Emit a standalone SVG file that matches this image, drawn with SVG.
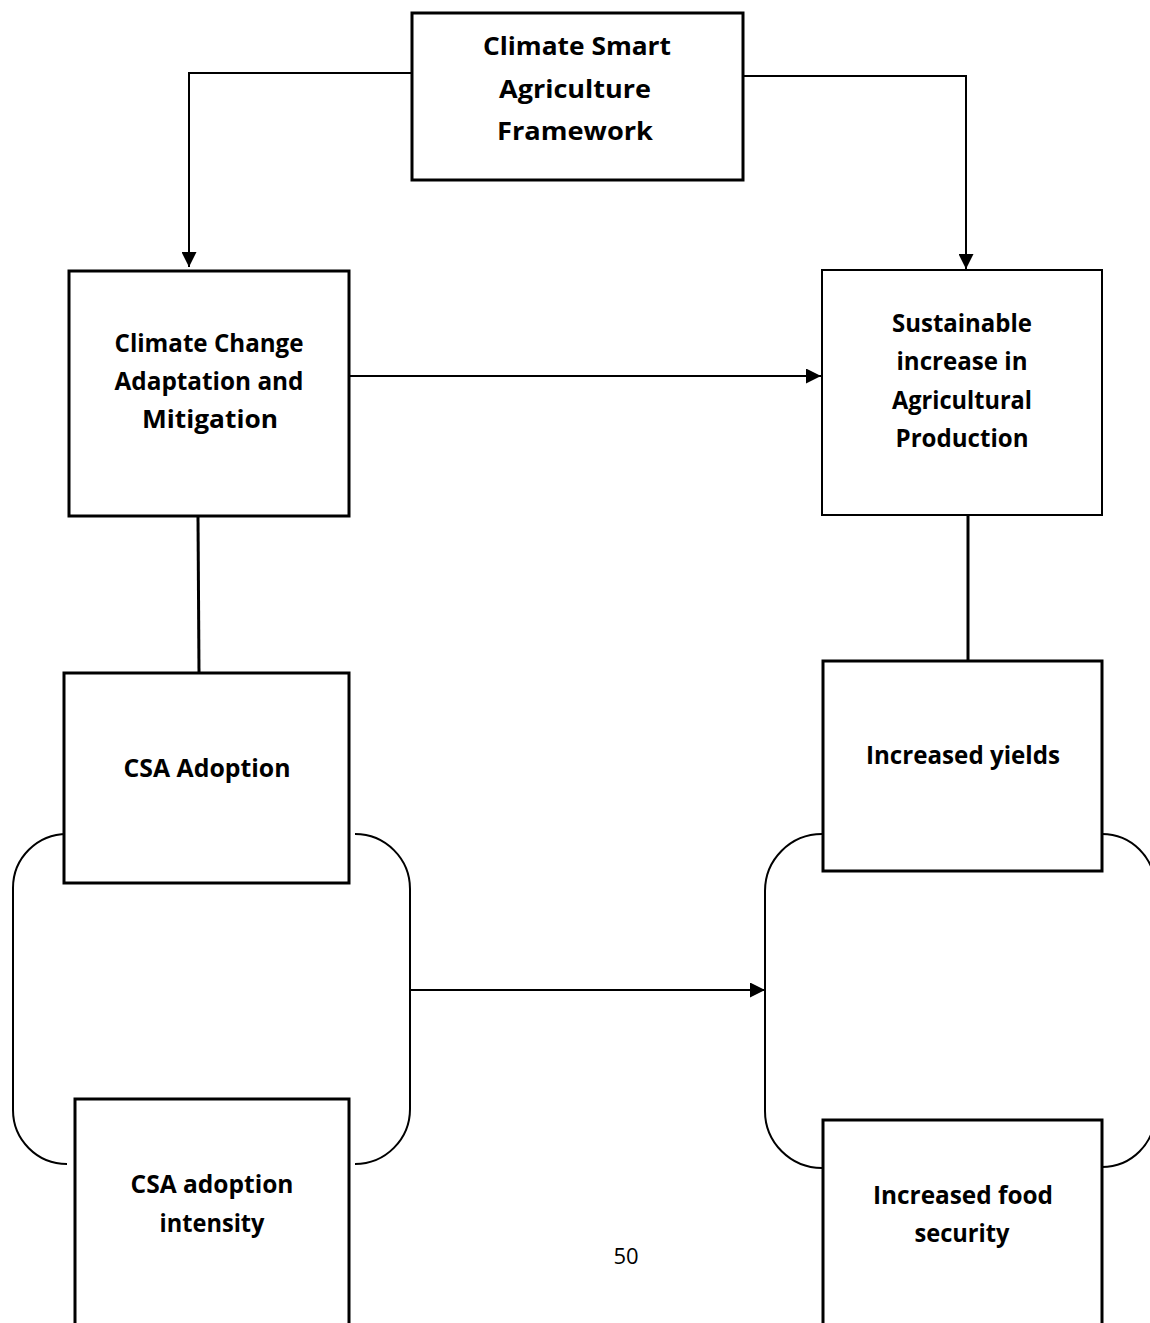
<svg xmlns="http://www.w3.org/2000/svg" width="1150" height="1323" viewBox="0 0 1150 1323">
<style>
.box{fill:#fff;stroke:#000;stroke-width:3}
.thin{stroke-width:2}
.lbl{font-family:"Open Sans","Liberation Sans",sans-serif;font-weight:700;font-size:25px;fill:#000;text-anchor:middle}
.line{fill:none;stroke:#000;stroke-width:2}
.br{fill:none;stroke:#000;stroke-width:2}
.pg{font-family:"Open Sans","Liberation Sans",sans-serif;font-size:22px;fill:#000;text-anchor:middle}
</style>
<defs>
<marker id="arr" markerUnits="userSpaceOnUse" markerWidth="15" markerHeight="15" refX="15" refY="7.5" orient="auto">
<path d="M0,0 L15,7.5 L0,15 z" fill="#000"/>
</marker>
</defs>
<rect width="1150" height="1323" fill="#fff"/>
<g id="brackets">
<path class="br" d="M67,834 A54,54 0 0 0 13,888 L13,1110 A54,54 0 0 0 67,1164"/>
<path class="br" d="M355,834 A55,55 0 0 1 410,889 L410,1109 A55,55 0 0 1 355,1164"/>
<path class="br" d="M822,834 A57,57 0 0 0 765,891 L765,1111 A57,57 0 0 0 822,1168"/>
<path class="br" d="M1102,834 A53,53 0 0 1 1155,887 L1155,1114 A53,53 0 0 1 1102,1167"/>
</g>
<g id="connectors">
<path class="line" d="M412,73 L189,73 L189,267" marker-end="url(#arr)"/>
<path class="line" d="M743,76 L966,76 L966,269" marker-end="url(#arr)"/>
<path class="line" d="M350,376 L821,376" marker-end="url(#arr)"/>
<path class="line" d="M410,990 L765,990" marker-end="url(#arr)"/>
<path class="line" d="M198,517 L199,673" style="stroke-width:3"/>
<path class="line" d="M968,515 L968,661" style="stroke-width:3"/>
</g>
<g id="n-csa-framework">
<rect class="box" x="412" y="13" width="331" height="167"/>
<text class="lbl" x="577" y="55" textLength="188" lengthAdjust="spacingAndGlyphs">Climate Smart</text>
<text class="lbl" x="575" y="98" textLength="152" lengthAdjust="spacingAndGlyphs">Agriculture</text>
<text class="lbl" x="575" y="140" textLength="156" lengthAdjust="spacingAndGlyphs">Framework</text>
</g>
<g id="n-adaptation">
<rect class="box" x="69" y="271" width="280" height="245"/>
<text class="lbl" x="209" y="352" textLength="189" lengthAdjust="spacingAndGlyphs">Climate Change</text>
<text class="lbl" x="209" y="390" textLength="189" lengthAdjust="spacingAndGlyphs">Adaptation and</text>
<text class="lbl" x="210" y="428" textLength="136" lengthAdjust="spacingAndGlyphs">Mitigation</text>
</g>
<g id="n-sustainable">
<rect class="box thin" x="822" y="270" width="280" height="245"/>
<text class="lbl" x="962" y="332" textLength="140" lengthAdjust="spacingAndGlyphs">Sustainable</text>
<text class="lbl" x="962" y="370" textLength="131" lengthAdjust="spacingAndGlyphs">increase in</text>
<text class="lbl" x="962" y="409" textLength="140" lengthAdjust="spacingAndGlyphs">Agricultural</text>
<text class="lbl" x="962" y="447" textLength="133" lengthAdjust="spacingAndGlyphs">Production</text>
</g>
<g id="n-csa-adoption">
<rect class="box" x="64" y="673" width="285" height="210"/>
<text class="lbl" x="207" y="777" textLength="167" lengthAdjust="spacingAndGlyphs">CSA Adoption</text>
</g>
<g id="n-yields">
<rect class="box" x="823" y="661" width="279" height="210"/>
<text class="lbl" x="963" y="764" textLength="194" lengthAdjust="spacingAndGlyphs">Increased yields</text>
</g>
<g id="n-intensity">
<rect class="box" x="75" y="1099" width="274" height="240"/>
<text class="lbl" x="212" y="1193" textLength="163" lengthAdjust="spacingAndGlyphs">CSA adoption</text>
<text class="lbl" x="212" y="1232" textLength="105" lengthAdjust="spacingAndGlyphs">intensity</text>
</g>
<g id="n-food-security">
<rect class="box" x="823" y="1120" width="279" height="220"/>
<text class="lbl" x="963" y="1204" textLength="180" lengthAdjust="spacingAndGlyphs">Increased food</text>
<text class="lbl" x="962" y="1242" textLength="95" lengthAdjust="spacingAndGlyphs">security</text>
</g>
<text class="pg" x="626" y="1264">50</text>
</svg>
